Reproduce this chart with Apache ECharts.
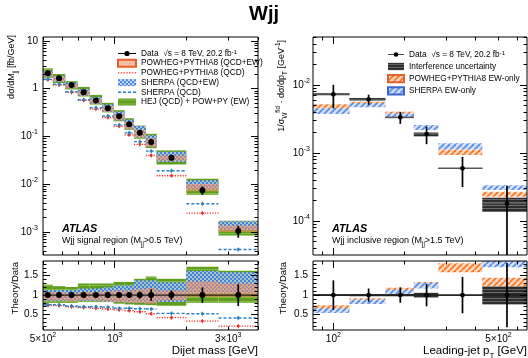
<!DOCTYPE html>
<html>
<head>
<meta charset="utf-8">
<script src="https://cdn.jsdelivr.net/npm/echarts@6/dist/echarts.min.js"></script>
<style>
html,body{margin:0;padding:0;background:#fff}
#chart{width:528px;height:358px}
</style>
</head>
<body>
<div id="chart"></div>
<script>
// ---- left panel: Wjj signal region, dijet mass ----
var mjjEdges   = [500, 550, 620, 700, 785, 885, 990, 1100, 1205, 1350, 1500, 2000, 2730, 4000];
var mjjCenters = [524, 584, 659, 741, 834, 936, 1044, 1151, 1275, 1423, 1732, 2336, 3304];
var mjjData    = [2.1, 1.65, 1.2, 0.84, 0.57, 0.39, 0.265, 0.18, 0.12, 0.077, 0.036, 0.0075, 0.00105];
var mjjRelErr  = [0.05, 0.05, 0.05, 0.05, 0.06, 0.06, 0.06, 0.07, 0.09, 0.15, 0.12, 0.2, 0.28];

var hejLo     = [1.68, 1.32, 0.96, 0.689, 0.467, 0.320, 0.207, 0.137, 0.090, 0.057, 0.0259, 0.0060, 0.00084];
var hejHi     = [2.67, 2.03, 1.45, 1.09, 0.741, 0.507, 0.355, 0.241, 0.170, 0.114, 0.0511, 0.0130, 0.00171];
var sherpaLo  = [1.79, 1.40, 1.02, 0.714, 0.485, 0.324, 0.217, 0.144, 0.096, 0.0616, 0.0295, 0.00788, 0.0011];
var sherpaHi  = [2.37, 1.86, 1.36, 0.983, 0.667, 0.468, 0.331, 0.225, 0.166, 0.106, 0.0479, 0.01215, 0.00167];
var powhegLo  = [1.81, 1.42, 1.01, 0.722, 0.490, 0.328, 0.217, 0.144, 0.096, 0.060, 0.031, 0.00713, 0.001];
var powhegHi  = [2.27, 1.78, 1.26, 0.907, 0.616, 0.429, 0.297, 0.202, 0.138, 0.0909, 0.0403, 0.0101, 0.00137];
var sherpaQcd = [1.58, 1.24, 0.864, 0.588, 0.399, 0.269, 0.175, 0.119, 0.078, 0.0493, 0.0191, 0.0039, 0.00043];
var powhegQcd = [1.55, 1.20, 0.84, 0.571, 0.376, 0.250, 0.164, 0.108, 0.0684, 0.040, 0.0151, 0.00248, 0.00021];

// theory/data
var hejRLo     = [0.80, 0.80, 0.80, 0.82, 0.82, 0.82, 0.78, 0.76, 0.75, 0.74, 0.72, 0.80, 0.80];
var hejRHi     = [1.27, 1.23, 1.21, 1.30, 1.30, 1.30, 1.34, 1.34, 1.42, 1.48, 1.42, 1.73, 1.63];
var sherpaRLo  = [0.85, 0.85, 0.85, 0.85, 0.85, 0.83, 0.82, 0.80, 0.80, 0.80, 0.82, 1.05, 1.05];
var sherpaRHi  = [1.13, 1.13, 1.13, 1.17, 1.17, 1.20, 1.25, 1.25, 1.38, 1.38, 1.33, 1.62, 1.59];
var powhegRLo  = [0.86, 0.86, 0.84, 0.86, 0.86, 0.84, 0.82, 0.80, 0.80, 0.78, 0.86, 0.95, 0.95];
var powhegRHi  = [1.08, 1.08, 1.05, 1.08, 1.08, 1.10, 1.12, 1.12, 1.15, 1.18, 1.12, 1.35, 1.30];
var sherpaQcdR = [0.75, 0.75, 0.72, 0.70, 0.70, 0.69, 0.66, 0.66, 0.65, 0.64, 0.53, 0.52, 0.41];
var powhegQcdR = [0.74, 0.73, 0.70, 0.68, 0.66, 0.64, 0.62, 0.60, 0.57, 0.52, 0.42, 0.33, 0.20];

// ---- right panel: Wjj inclusive region, leading-jet pT ----
var ptEdges   = [82, 117, 166, 219, 278, 427, 660];
var ptCenters = [100, 141, 192, 248, 352, 543];
var ptData    = [7.3e-3, 6.16e-3, 3.35e-3, 1.9e-3, 5.95e-4, 1.8e-4];
var ptRelErr  = [0.38, 0.17, 0.2, 0.29, 0.47, 0.83];

var interfLo = [7.05e-3, 5.85e-3, 3.25e-3, 1.75e-3, 5.85e-4, 1.35e-4];
var interfHi = [7.55e-3, 6.45e-3, 3.6e-3, 2.0e-3, 6.05e-4, 2.2e-4];
var powEwLo  = [4.4e-3, 4.91e-3, 3.42e-3, 2.23e-3, 9.35e-4, 2.28e-4];
var powEwHi  = [5.2e-3, 5.69e-3, 4.05e-3, 2.5e-3, 1.13e-3, 2.7e-4];
var sheEwLo  = [3.75e-3, 4.7e-3, 3.35e-3, 2.18e-3, 1.13e-3, 2.86e-4];
var sheEwHi  = [4.54e-3, 5.38e-3, 3.84e-3, 2.58e-3, 1.39e-3, 3.35e-4];

var interfRLo = [0.975, 0.97, 0.97, 0.94, 0.99, 0.76];
var interfRHi = [1.025, 1.03, 1.03, 1.06, 1.01, 1.23];
var powEwRLo  = [0.62, 0.79, 1.08, 1.21, 1.59, 1.23];
var powEwRHi  = [0.74, 0.92, 1.19, 1.34, 1.82, 1.45];
var sheEwRLo  = [0.54, 0.77, 1.03, 1.17, 1.90, 1.72];
var sheEwRHi  = [0.66, 0.89, 1.14, 1.32, 2.34, 1.95];

var FONT = '"Liberation Sans", Arial, Helvetica, sans-serif';

function richSet(fs) {
	return {
		n: {fontSize: fs, fontFamily: FONT, color: '#000', lineHeight: Math.round(fs * 1.45)},
		b: {fontSize: fs, fontFamily: FONT, color: '#000', fontWeight: 'bold', fontStyle: 'italic', lineHeight: Math.round(fs * 1.45)},
		sup: {fontSize: fs * 0.7, fontFamily: FONT, color: '#000', verticalAlign: 'top'},
		sub: {fontSize: fs * 0.7, fontFamily: FONT, color: '#000', verticalAlign: 'bottom'}
	};
}

// small tiles used as fills
function pattern(w, h, paint) {
	var c = document.createElement('canvas');
	c.width = w; c.height = h;
	paint(c.getContext('2d'));
	return {image: c, repeat: 'repeat'};
}
function diag(g, s) {
	for (var k = -s; k <= s; k += s) {
		g.beginPath(); g.moveTo(k, s); g.lineTo(k + s, 0); g.stroke();
	}
}
var greenFill = pattern(4, 4, function(g){
	g.fillStyle = '#5f9e1e'; g.fillRect(0, 0, 4, 4);
	g.fillStyle = '#85bb45'; g.fillRect(0, 1, 4, 1);
});
var orangeFill = pattern(3, 3, function(g){
	g.fillStyle = 'rgba(242,140,100,0.6)'; g.fillRect(0, 0, 3, 3);
	g.fillStyle = 'rgba(250,200,180,0.5)'; g.fillRect(1, 1, 1, 1);
});
var blueCheck = pattern(4, 4, function(g){
	g.fillStyle = 'rgba(180,208,246,0.8)'; g.fillRect(0, 0, 4, 4);
	g.fillStyle = 'rgba(60,120,215,0.9)'; g.fillRect(0, 0, 2, 2); g.fillRect(2, 2, 2, 2);
});
var orangeHatch = pattern(6, 6, function(g){
	g.fillStyle = '#fdd8bc'; g.fillRect(0, 0, 6, 6);
	g.strokeStyle = '#f6782c'; g.lineWidth = 1.8; diag(g, 6);
});
var blueHatch = pattern(6, 6, function(g){
	g.fillStyle = '#d3e0f8'; g.fillRect(0, 0, 6, 6);
	g.strokeStyle = '#5e8fe6'; g.lineWidth = 1.8; diag(g, 6);
});
var greyFill = pattern(3, 3, function(g){
	g.fillStyle = '#2c2c2c'; g.fillRect(0, 0, 3, 3);
	g.fillStyle = '#6a6a6a'; g.fillRect(0, 1, 3, 1);
});

// ---- axes: every frame gets ticks on all four sides ----
var xAxes = [], yAxes = [];

function logMajor(min, max) {
	var out = [];
	for (var e = Math.floor(Math.log10(min)); e <= Math.ceil(Math.log10(max)); e++) {
		var v = Math.pow(10, e);
		if (v >= min && v <= max) out.push(v);
	}
	return out;
}
function logMinor(min, max) {
	var out = [];
	for (var e = Math.floor(Math.log10(min)); e <= Math.ceil(Math.log10(max)); e++) {
		for (var m = 2; m <= 9; m++) {
			var v = m * Math.pow(10, e);
			if (v > min && v < max) out.push(v);
		}
	}
	return out;
}
function powLabel(v) {
	var e = Math.floor(Math.log10(v) + 1e-9);
	var m = Math.round(v / Math.pow(10, e));
	if (e === 0 && m === 1) return '{n|1}';
	if (e === 1 && m === 1) return '{n|10}';
	return '{n|' + (m === 1 ? '' : m + '\u00d7') + '10}{sup|' + e + '}';
}
function plainLabel(v) { return '{n|' + v + '}'; }

function tickAxis(grid, s, pos, ticks, len, labels) {
	return {
		gridIndex: grid, type: s.type, min: s.min, max: s.max, position: pos, z: 10,
		axisLine: {show: false},
		splitLine: {show: false},
		axisTick: ticks.length ? {show: true, inside: true, length: len, customValues: ticks,
			lineStyle: {color: '#000', width: 1}} : {show: false},
		axisLabel: labels ? {show: true, customValues: labels, formatter: s.fmt, margin: s.margin,
			color: '#000', fontFamily: FONT, fontSize: 10, rich: richSet(10)} : {show: false}
	};
}
function frameAxes(grid, xs, ys) {
	var ax = {x: xAxes.length, y: yAxes.length};
	xAxes.push(tickAxis(grid, xs, 'bottom', xs.major, 7, xs.labels));
	xAxes.push(tickAxis(grid, xs, 'bottom', xs.minor, 3.5, null));
	xAxes.push(tickAxis(grid, xs, 'top', xs.major, 7, null));
	xAxes.push(tickAxis(grid, xs, 'top', xs.minor, 3.5, null));
	yAxes.push(tickAxis(grid, ys, 'left', ys.major, 7, ys.labels));
	yAxes.push(tickAxis(grid, ys, 'left', ys.minor, 3.5, null));
	yAxes.push(tickAxis(grid, ys, 'right', ys.major, 7, null));
	yAxes.push(tickAxis(grid, ys, 'right', ys.minor, 3.5, null));
	return ax;
}

var mjjAxis = {type: 'log', min: 500, max: 4000, major: [1000],
	minor: [500, 600, 700, 800, 900, 2000, 3000, 4000], labels: [500, 1000, 3000], fmt: powLabel, margin: 2};
var ptAxis = {type: 'log', min: 82, max: 660, major: [100],
	minor: [90, 200, 300, 400, 500, 600], labels: [100, 500], fmt: powLabel, margin: 2};
var mjjXsecAxis = {type: 'log', min: 3.3e-4, max: 12.1, fmt: powLabel, margin: 5};
mjjXsecAxis.major = logMajor(mjjXsecAxis.min, mjjXsecAxis.max);
mjjXsecAxis.minor = logMinor(mjjXsecAxis.min, mjjXsecAxis.max);
mjjXsecAxis.labels = mjjXsecAxis.major;
var ptXsecAxis = {type: 'log', min: 3.16e-5, max: 0.0508, fmt: powLabel, margin: 3};
ptXsecAxis.major = logMajor(ptXsecAxis.min, ptXsecAxis.max);
ptXsecAxis.minor = logMinor(ptXsecAxis.min, ptXsecAxis.max);
ptXsecAxis.labels = ptXsecAxis.major;
var ratioAxis = {type: 'value', min: 0.1, max: 1.88, major: [0.5, 1, 1.5],
	minor: [0.2, 0.3, 0.4, 0.6, 0.7, 0.8, 0.9, 1.1, 1.2, 1.3, 1.4, 1.6, 1.7, 1.8],
	labels: [0.5, 1, 1.5], fmt: plainLabel, margin: 5};

var axLM = frameAxes(0, {type: mjjAxis.type, min: mjjAxis.min, max: mjjAxis.max, major: mjjAxis.major, minor: mjjAxis.minor}, mjjXsecAxis);
var axLR = frameAxes(1, mjjAxis, ratioAxis);
var axRM = frameAxes(2, {type: ptAxis.type, min: ptAxis.min, max: ptAxis.max, major: ptAxis.major, minor: ptAxis.minor}, ptXsecAxis);
var axRR = frameAxes(3, ptAxis, ratioAxis);

// ---- series builders ----
function boxSeries(name, ax, edges, lo, hi, fill, border) {
	var data = [];
	for (var i = 0; i < lo.length; i++) data.push([edges[i], edges[i + 1], lo[i], hi[i]]);
	return {
		type: 'custom', name: name, xAxisIndex: ax.x, yAxisIndex: ax.y, clip: true, silent: true,
		itemStyle: {color: fill, borderColor: border || null, borderWidth: border ? 1 : 0},
		encode: {x: [0, 1], y: [2, 3]},
		data: data,
		renderItem: function(params, api) {
			var a = api.coord([api.value(0), api.value(3)]);
			var b = api.coord([api.value(1), api.value(2)]);
			return {type: 'rect', shape: {x: a[0], y: a[1], width: b[0] - a[0], height: b[1] - a[1]},
				style: {fill: fill}};
		}
	};
}
function levelSeries(name, ax, edges, centers, vals, color, dash, width) {
	var data = [];
	for (var i = 0; i < vals.length; i++) data.push([edges[i], edges[i + 1], centers[i], vals[i]]);
	return {
		type: 'custom', name: name, xAxisIndex: ax.x, yAxisIndex: ax.y, clip: true, silent: true,
		itemStyle: {color: color},
		encode: {x: [0, 1], y: 3},
		data: data,
		renderItem: function(params, api) {
			var a = api.coord([api.value(0), api.value(3)]);
			var b = api.coord([api.value(1), api.value(3)]);
			var c = api.coord([api.value(2), api.value(3)]);
			return {type: 'group', children: [
				{type: 'line', shape: {x1: a[0], y1: a[1], x2: b[0], y2: b[1]},
					style: {stroke: color, lineWidth: width, lineDash: dash}},
				{type: 'line', shape: {x1: c[0], y1: c[1] - 2, x2: c[0], y2: c[1] + 2},
					style: {stroke: color, lineWidth: 1}},
				{type: 'circle', shape: {cx: c[0], cy: c[1], r: 1.4}, style: {fill: color}}
			]};
		}
	};
}
function dataSeries(ax, centers, vals, relErr, edges, r, xbar) {
	var data = [];
	for (var i = 0; i < vals.length; i++) {
		data.push([centers[i], vals[i], vals[i] * (1 - relErr[i]), vals[i] * (1 + relErr[i]), edges[i], edges[i + 1]]);
	}
	return {
		type: 'custom', name: 'Data', xAxisIndex: ax.x, yAxisIndex: ax.y, clip: true, silent: true,
		itemStyle: {color: '#000'},
		encode: {x: 0, y: [1, 2, 3]},
		data: data,
		renderItem: function(params, api) {
			var p = api.coord([api.value(0), api.value(1)]);
			var pl = api.coord([api.value(0), api.value(2)]);
			var ph = api.coord([api.value(0), api.value(3)]);
			var kids = [];
			if (xbar) {
				var a = api.coord([api.value(4), api.value(1)]);
				var b = api.coord([api.value(5), api.value(1)]);
				kids.push({type: 'line', shape: {x1: a[0], y1: p[1], x2: b[0], y2: p[1]},
					style: {stroke: '#555', lineWidth: 1.3}});
			}
			kids.push({type: 'line', shape: {x1: p[0], y1: ph[1], x2: p[0], y2: pl[1]},
				style: {stroke: '#000', lineWidth: 1.7}});
			kids.push({type: 'circle', shape: {cx: p[0], cy: p[1], r: r}, style: {fill: '#000'}});
			return {type: 'group', children: kids};
		}
	};
}
function unitLine(ax, s) {
	return {type: 'line', xAxisIndex: ax.x, yAxisIndex: ax.y, silent: true, symbol: 'none',
		data: [[s.min, 1], [s.max, 1]], lineStyle: {color: '#000', width: 1}};
}
function ratios(vals) { var out = []; for (var i = 0; i < vals.length; i++) out.push(1); return out; }

var dotted = [1.2, 1.4], dashed = [3, 2];

var series = [
	// left, cross sections
	boxSeries('HEJ (QCD) + POW+PY (EW)', axLM, mjjEdges, hejLo, hejHi, greenFill),
	boxSeries('SHERPA (QCD+EW)', axLM, mjjEdges, sherpaLo, sherpaHi, blueCheck),
	boxSeries('POWHEG+PYTHIA8 (QCD+EW)', axLM, mjjEdges, powhegLo, powhegHi, orangeFill, '#e4602c'),
	levelSeries('POWHEG+PYTHIA8 (QCD)', axLM, mjjEdges, mjjCenters, powhegQcd, '#e8302a', dotted, 1.4),
	levelSeries('SHERPA (QCD)', axLM, mjjEdges, mjjCenters, sherpaQcd, '#2a80c2', dashed, 1.4),
	dataSeries(axLM, mjjCenters, mjjData, mjjRelErr, mjjEdges, 3, false),
	// left, ratio
	boxSeries('HEJ (QCD) + POW+PY (EW)', axLR, mjjEdges, hejRLo, hejRHi, greenFill),
	boxSeries('SHERPA (QCD+EW)', axLR, mjjEdges, sherpaRLo, sherpaRHi, blueCheck),
	boxSeries('POWHEG+PYTHIA8 (QCD+EW)', axLR, mjjEdges, powhegRLo, powhegRHi, orangeFill, '#e4602c'),
	levelSeries('POWHEG+PYTHIA8 (QCD)', axLR, mjjEdges, mjjCenters, powhegQcdR, '#e8302a', dotted, 1.4),
	levelSeries('SHERPA (QCD)', axLR, mjjEdges, mjjCenters, sherpaQcdR, '#2a80c2', dashed, 1.4),
	unitLine(axLR, mjjAxis),
	dataSeries(axLR, mjjCenters, ratios(mjjData), mjjRelErr, mjjEdges, 3, false),
	// right, cross sections
	boxSeries('Interference uncertainty', axRM, ptEdges, interfLo, interfHi, greyFill),
	boxSeries('POWHEG+PYTHIA8 EW-only', axRM, ptEdges, powEwLo, powEwHi, orangeHatch, '#e4602c'),
	boxSeries('SHERPA EW-only', axRM, ptEdges, sheEwLo, sheEwHi, blueHatch, '#3a66d0'),
	dataSeries(axRM, ptCenters, ptData, ptRelErr, ptEdges, 2.4, true),
	// right, ratio
	boxSeries('Interference uncertainty', axRR, ptEdges, interfRLo, interfRHi, greyFill),
	boxSeries('POWHEG+PYTHIA8 EW-only', axRR, ptEdges, powEwRLo, powEwRHi, orangeHatch, '#e4602c'),
	boxSeries('SHERPA EW-only', axRR, ptEdges, sheEwRLo, sheEwRHi, blueHatch, '#3a66d0'),
	unitLine(axRR, ptAxis),
	dataSeries(axRR, ptCenters, ratios(ptData), ptRelErr, ptEdges, 2.4, true)
];

// ---- legends ----
function stripIcon(w, gap, h, len) {
	var p = 'path://';
	for (var x = 0; x + w <= len + 0.01; x += w + gap) p += 'M' + x + ',0h' + w + 'v' + h + 'h-' + w + 'z';
	return p;
}
var dataIcon = 'path://M0,2.6h18v0.9h-18zM11.6,3a2.6,2.6 0 1 1 -5.2,0a2.6,2.6 0 1 1 5.2,0z';
var legendRich = {
	t: {fontSize: 8.3, fontFamily: FONT, color: '#000', lineHeight: 9},
	s: {fontSize: 6, fontFamily: FONT, color: '#000', verticalAlign: 'top'}
};
function legendText(name) {
	if (name === 'Data') return '{t|Data  \u221as = 8 TeV, 20.2 fb}{s|-1}';
	return '{t|' + name + '}';
}
var legends = [{
	left: 112, top: 44, orient: 'vertical', itemWidth: 18, itemHeight: 7, itemGap: 0.7,
	selectedMode: false, formatter: legendText,
	textStyle: {fontFamily: FONT, fontSize: 8.3, color: '#000', lineHeight: 9, rich: legendRich},
	data: [
		{name: 'Data', icon: dataIcon},
		{name: 'POWHEG+PYTHIA8 (QCD+EW)', icon: 'rect'},
		{name: 'POWHEG+PYTHIA8 (QCD)', icon: stripIcon(1.2, 1.3, 1.3, 18)},
		{name: 'SHERPA (QCD+EW)', icon: 'rect'},
		{name: 'SHERPA (QCD)', icon: stripIcon(2.6, 1.6, 1.3, 18)},
		{name: 'HEJ (QCD) + POW+PY (EW)', icon: 'rect'}
	]
}, {
	left: 382, top: 45, orient: 'vertical', itemWidth: 16, itemHeight: 7.3, itemGap: 3,
	selectedMode: false, formatter: legendText,
	textStyle: {fontFamily: FONT, fontSize: 8.2, color: '#000', lineHeight: 9, rich: legendRich},
	data: [
		{name: 'Data', icon: dataIcon},
		{name: 'Interference uncertainty', icon: 'rect'},
		{name: 'POWHEG+PYTHIA8 EW-only', icon: 'rect'},
		{name: 'SHERPA EW-only', icon: 'rect'}
	]
}];

// ---- free text ----
function label(x, y, text, fs, align, rot) {
	return {type: 'text', x: x, y: y, rotation: rot || 0, z: 20, silent: true,
		style: {text: text, rich: richSet(fs), align: align, verticalAlign: 'middle', fill: '#000'}};
}
var texts = [
	{type: 'text', x: 264, y: 14, z: 20, silent: true,
		style: {text: 'Wjj', fontFamily: FONT, fontSize: 20, fontWeight: 'bold', fill: '#000', align: 'center', verticalAlign: 'middle'}},
	label(12, 35, '{n|d\u03c3/dM}{sub|jj}{n| [fb/GeV]}', 9, 'right', Math.PI / 2),
	label(15, 262, '{n|Theory/Data}', 9.5, 'right', Math.PI / 2),
	label(282, 40, '{n|1/\u03c3}{sub|W}{sup|fid}{n| \u00b7 d\u03c3/dp}{sub|T}{n| [GeV}{sup|-1}{n|]}', 9, 'right', Math.PI / 2),
	label(283, 262, '{n|Theory/Data}', 9.5, 'right', Math.PI / 2),
	label(258, 351, '{n|Dijet mass [GeV]}', 11.5, 'right'),
	label(527, 351, '{n|Leading-jet p}{sub|T}{n| [GeV]}', 11.5, 'right'),
	label(62, 229, '{b|ATLAS}', 10.8, 'left'),
	label(62, 241, '{n|Wjj signal region (M}{sub|jj}{n|>0.5 TeV)}', 9, 'left'),
	label(332, 229, '{b|ATLAS}', 10.8, 'left'),
	label(332, 241, '{n|Wjj inclusive region (M}{sub|jj}{n|>1.5 TeV)}', 9, 'left')
];

function frame(left, top, width, height) {
	return {left: left, top: top, width: width, height: height, show: true, z: 10,
		borderColor: '#000', borderWidth: 1, backgroundColor: 'transparent',
		containLabel: false, outerBoundsMode: 'none'};
}

var chart = echarts.init(document.getElementById('chart'), null, {renderer: 'canvas'});
chart.setOption({
	animation: false,
	backgroundColor: '#fff',
	textStyle: {fontFamily: FONT},
	grid: [
		frame(43, 37, 215, 218),
		frame(43, 261, 215, 69),
		frame(313, 37, 214, 218),
		frame(313, 261, 214, 69)
	],
	xAxis: xAxes,
	yAxis: yAxes,
	legend: legends,
	graphic: texts,
	series: series
});
</script>
</body>
</html>
